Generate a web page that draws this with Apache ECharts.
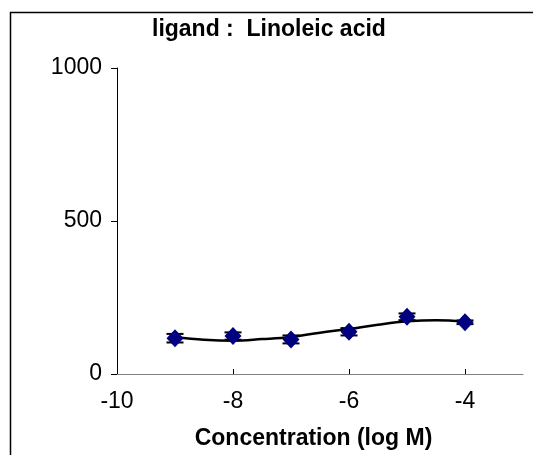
<!DOCTYPE html>
<html>
<head>
<meta charset="utf-8">
<script src="https://cdn.jsdelivr.net/npm/echarts@6/dist/echarts.min.js"></script>
<style>
  html, body { margin: 0; padding: 0; background: #fff; }
  #chart { width: 533px; height: 455px; }
</style>
</head>
<body>
<div id="chart"></div>
<script>
// measured points (log M, response)
var concentrations = [-9, -8, -7, -6, -5, -4];
var responses = [117, 124, 113, 138, 187, 169];
var errors = [14, 12, 13, 12, 11, 6];

// fitted curve
var fitX = [-9, -8.5, -8, -7.5, -7, -6.5, -6, -5.5, -5, -4.5, -4];
var fitY = [120, 112, 109, 114, 121, 135, 147, 161, 172, 176, 172];

var xTicks = [-10, -8, -6, -4];

var font = 'Liberation Sans, Arial, sans-serif';

var myChart = echarts.init(document.getElementById('chart'));

var points = []
var bars = []
for (var i = 0; i < concentrations.length; i++) {
    points.push([concentrations[i], responses[i]])
    bars.push([concentrations[i], responses[i] - errors[i], responses[i] + errors[i]])
}
var fit = []
for (var j = 0; j < fitX.length; j++) {
    fit.push([fitX[j], fitY[j]])
}

var option = {
    animation: false,
    title: {
        text: 'ligand :  Linoleic acid',
        left: 152,
        top: 18,
        padding: 0,
        textStyle: {
            fontFamily: font,
            fontSize: 23,
            fontWeight: 'bold',
            color: '#000'
        }
    },
    graphic: [{
        type: 'rect',
        shape: { x: 10.5, y: 12.5, width: 700, height: 700 },
        style: { fill: 'none', stroke: '#000', lineWidth: 1.5 },
        z: -1
    }],
    grid: {
        left: 117,
        right: 10,
        top: 68,
        bottom: 80
    },
    xAxis: {
        type: 'value',
        min: -10,
        max: -3,
        interval: 2,
        name: 'Concentration (log M)',
        nameLocation: 'middle',
        nameGap: 53,
        nameTextStyle: {
            fontFamily: font,
            fontSize: 23,
            fontWeight: 'bold',
            color: '#000',
            padding: [0, 13, 0, 0]
        },
        axisLine: { onZero: false, lineStyle: { color: '#808080', width: 1 } },
        axisTick: { inside: true, length: 5, customValues: xTicks, lineStyle: { color: '#000' } },
        axisLabel: {
            customValues: xTicks,
            margin: 16,
            fontFamily: font,
            fontSize: 23,
            color: '#000'
        },
        splitLine: { show: false }
    },
    yAxis: {
        type: 'value',
        min: 0,
        max: 1000,
        interval: 500,
        axisLine: { show: true, lineStyle: { color: '#000', width: 1 } },
        axisTick: { show: true, length: 6, lineStyle: { color: '#000' } },
        axisLabel: {
            margin: 15,
            fontFamily: font,
            fontSize: 23,
            color: '#000',
            formatter: function (v) { return String(v) }
        },
        splitLine: { show: false }
    },
    series: [
        {
            type: 'line',
            data: fit,
            smooth: 0.4,
            showSymbol: false,
            lineStyle: { color: '#000', width: 2.5 },
            z: 3
        },
        {
            type: 'custom',
            data: bars,
            renderItem: function (params, api) {
                var top = api.coord([api.value(0), api.value(2)])
                var bot = api.coord([api.value(0), api.value(1)])
                var half = 8.5
                var st = { stroke: '#000', lineWidth: 2 }
                return {
                    type: 'group',
                    children: [
                        { type: 'line', shape: { x1: top[0], y1: top[1], x2: bot[0], y2: bot[1] }, style: st },
                        { type: 'line', shape: { x1: top[0] - half, y1: top[1], x2: top[0] + half, y2: top[1] }, style: st },
                        { type: 'line', shape: { x1: bot[0] - half, y1: bot[1], x2: bot[0] + half, y2: bot[1] }, style: st }
                    ]
                }
            },
            z: 2
        },
        {
            type: 'scatter',
            data: points,
            symbol: 'diamond',
            symbolSize: [17, 18],
            itemStyle: { color: '#000080', opacity: 1 },
            z: 4
        }
    ]
};

myChart.setOption(option);
</script>
</body>
</html>
